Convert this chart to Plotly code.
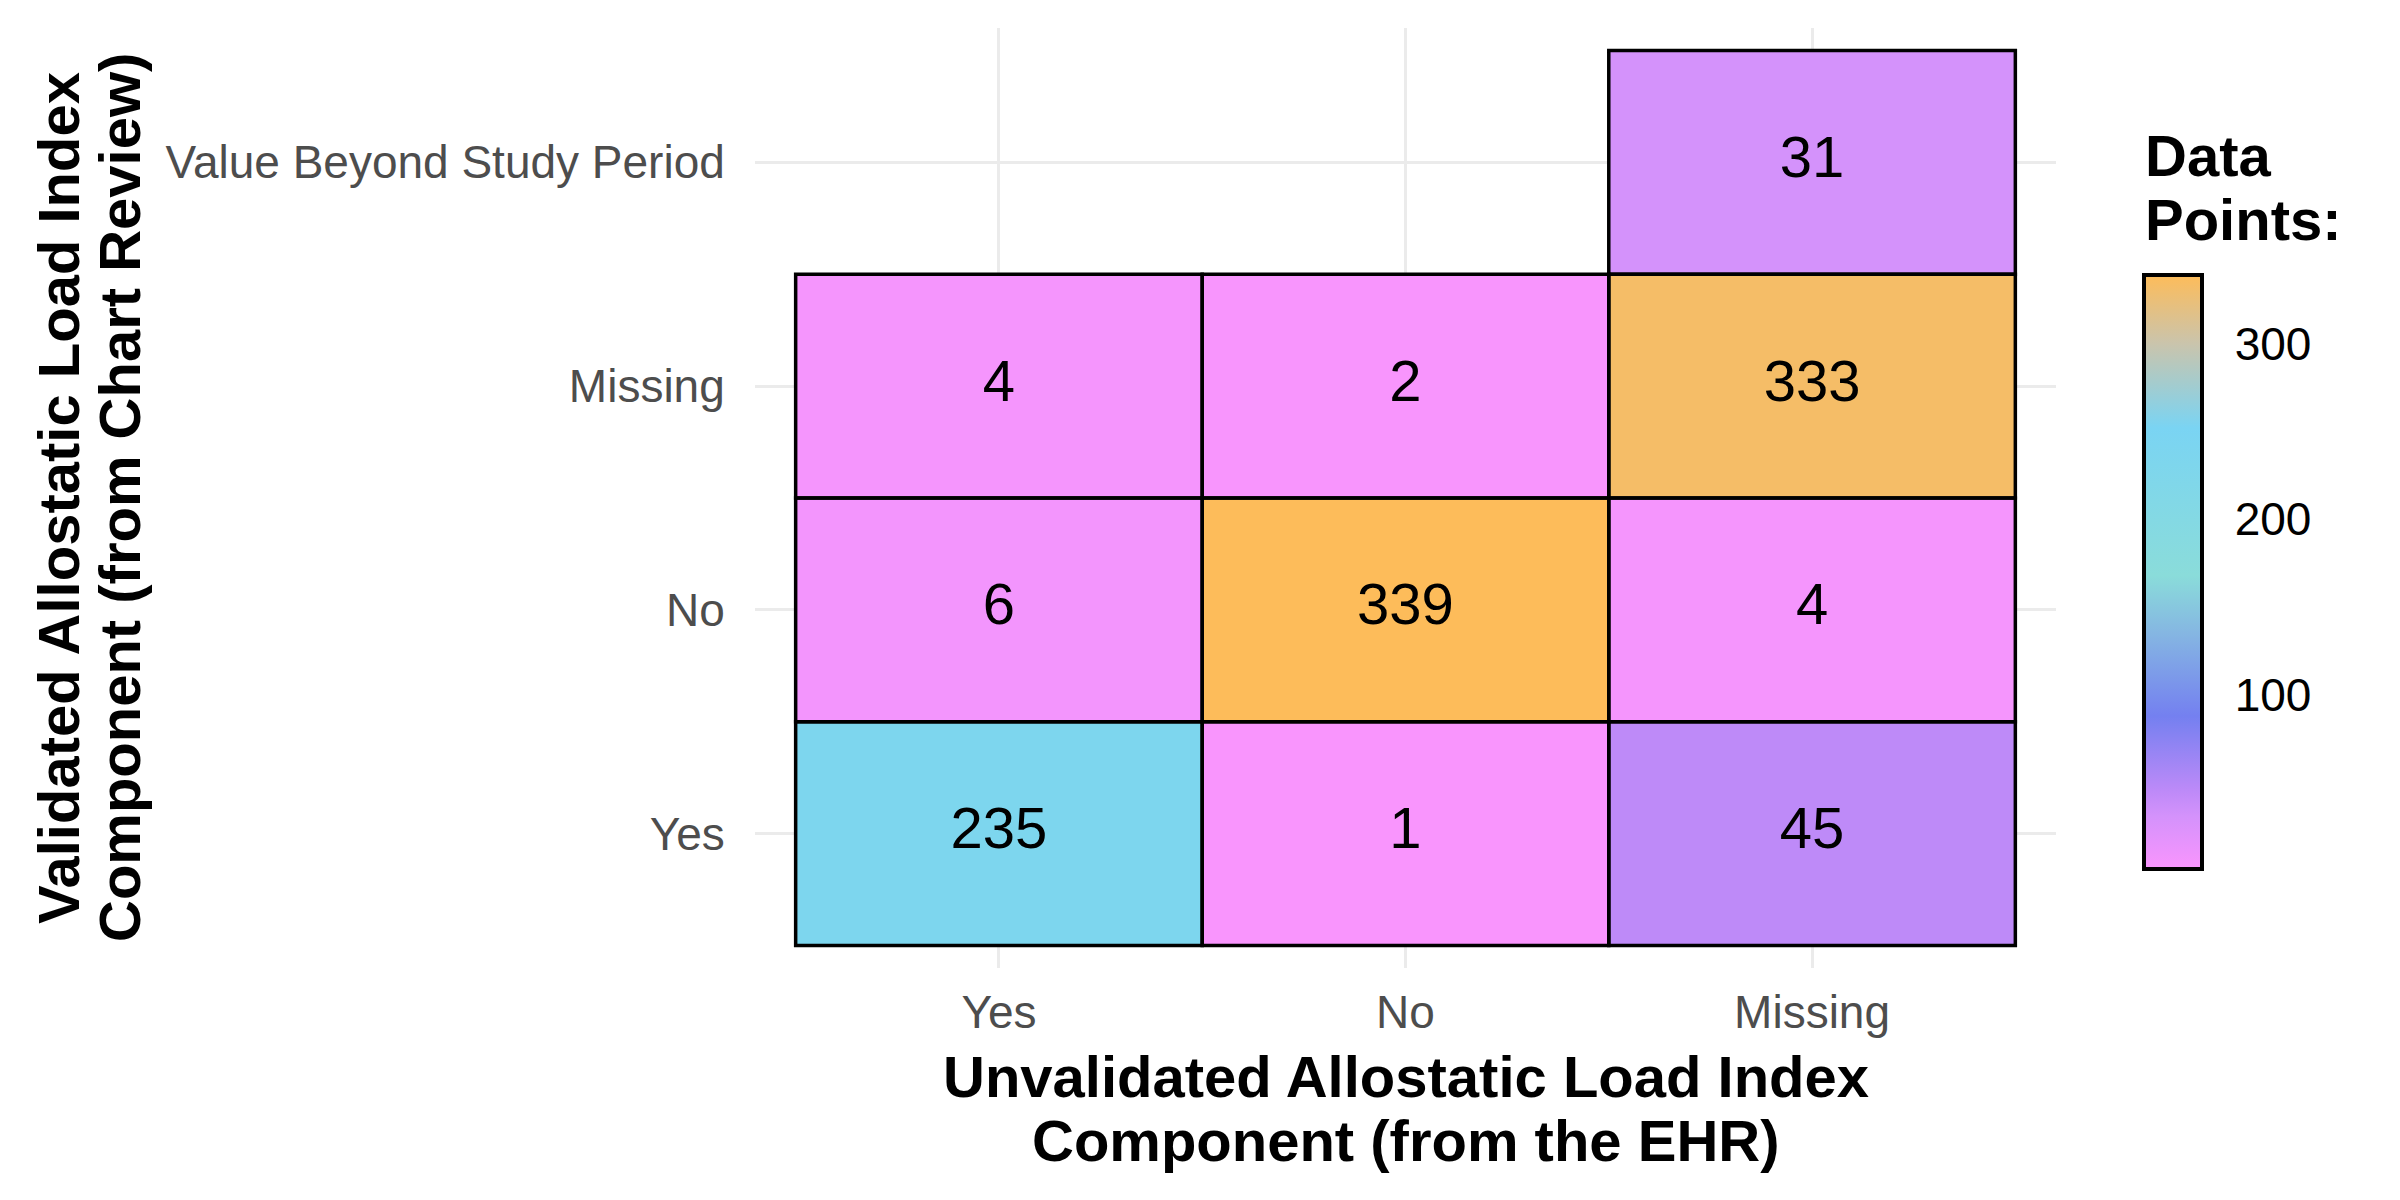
import plotly.graph_objects as go

# ---- data ----
ehr_categories = ["Yes", "No", "Missing"]
chart_categories = ["Yes", "No", "Missing", "Value Beyond Study Period"]

cell_ehr = ["Yes", "No", "Missing", "Yes", "No", "Missing", "Yes", "No", "Missing", "Missing"]
cell_chart = ["Yes", "Yes", "Yes", "No", "No", "No", "Missing", "Missing", "Missing",
              "Value Beyond Study Period"]
cell_count = [235, 1, 45, 6, 339, 4, 4, 2, 333, 31]

colorbar_ticks = [100, 200, 300]

# ---- build matrix ----
zmin, zmax = min(cell_count), max(cell_count)
z = [[None for _ in ehr_categories] for _ in chart_categories]
for e, c, v in zip(cell_ehr, cell_chart, cell_count):
    z[chart_categories.index(c)][ehr_categories.index(e)] = v

def frac(v):
    return (v - zmin) / (zmax - zmin)

colorscale = [
    [0.0, "#F995FD"],
    [frac(31), "#D492FB"],
    [frac(45), "#BE8AF8"],
    [frac(88), "#7480F0"],
    [frac(135), "#85B6E2"],
    [frac(168), "#8ADCDA"],
    [frac(252), "#7AD4F3"],
    [frac(300), "#CAC4AC"],
    [1.0, "#FDBC5A"],
]

# geometry (pixels)
W, H = 2400, 1200
ml, mr, mt, mb = 755, 344, 28, 232
pw, ph = W - ml - mr, H - mt - mb
cb_left_px, cb_top_px, cb_len_px, cb_thick = 2144, 275, 594, 58

def px_x(p):
    return (p - ml) / pw

def px_y(p):
    return (H - mb - p) / ph

fig = go.Figure()

fig.add_trace(go.Heatmap(
    x=ehr_categories, y=chart_categories, z=z,
    zmin=zmin, zmax=zmax, colorscale=colorscale,
    hoverongaps=False,
    colorbar=dict(
        x=px_x(cb_left_px), xanchor="left", xref="paper",
        y=px_y(cb_top_px), yanchor="top", yref="paper",
        len=cb_len_px, lenmode="pixels",
        thickness=cb_thick, thicknessmode="pixels",
        outlinewidth=4, outlinecolor="black",
        xpad=0, ypad=0,
        tickvals=colorbar_ticks, ticks="outside", ticklen=22,
        tickcolor="rgba(0,0,0,0)", tickwidth=2,
        tickfont=dict(family="Liberation Sans, Arial, sans-serif", size=46, color="black"),
    ),
))

# cell labels
fig.add_trace(go.Scatter(
    x=cell_ehr, y=cell_chart, mode="text",
    text=[str(v) for v in cell_count],
    textposition="middle center",
    textfont=dict(family="Liberation Sans, Arial, sans-serif", size=58, color="black"),
    hoverinfo="skip", showlegend=False,
))

# tile borders
shapes = []
for e, c in zip(cell_ehr, cell_chart):
    xi = ehr_categories.index(e)
    yi = chart_categories.index(c)
    shapes.append(dict(type="rect", xref="x", yref="y",
                       x0=xi - 0.5, x1=xi + 0.5, y0=yi - 0.5, y1=yi + 0.5,
                       line=dict(color="black", width=3.5), fillcolor="rgba(0,0,0,0)",
                       layer="above"))

# colorbar ticks drawn inside the bar on both edges
for t in colorbar_ticks:
    ypx = cb_top_px + (zmax - t) / (zmax - zmin) * cb_len_px
    for a, b in [(cb_left_px + 3, cb_left_px + 15),
                 (cb_left_px + cb_thick - 15, cb_left_px + cb_thick - 3)]:
        shapes.append(dict(type="line", xref="paper", yref="paper",
                           x0=px_x(a), x1=px_x(b), y0=px_y(ypx), y1=px_y(ypx),
                           line=dict(color="black", width=2)))

title_font = dict(family="Liberation Sans, Arial, sans-serif", size=58, color="black")
annotations = [
    dict(text="<b>Unvalidated Allostatic Load Index</b>", x=0.5, y=px_y(1076),
         xref="paper", yref="paper", showarrow=False, xanchor="center", yanchor="middle",
         font=title_font),
    dict(text="<b>Component (from the EHR)</b>", x=0.5, y=px_y(1140),
         xref="paper", yref="paper", showarrow=False, xanchor="center", yanchor="middle",
         font=title_font),
    dict(text="<b>Validated Allostatic Load Index</b>", x=px_x(58), y=0.5, textangle=-90,
         xref="paper", yref="paper", showarrow=False, xanchor="center", yanchor="middle",
         font=title_font),
    dict(text="<b>Component (from Chart Review)</b>", x=px_x(119), y=0.5, textangle=-90,
         xref="paper", yref="paper", showarrow=False, xanchor="center", yanchor="middle",
         font=title_font),
    dict(text="<b>Data</b>", x=px_x(2143), y=px_y(156),
         xref="paper", yref="paper", showarrow=False, xanchor="left", yanchor="middle",
         font=title_font),
    dict(text="<b>Points:</b>", x=px_x(2143), y=px_y(219),
         xref="paper", yref="paper", showarrow=False, xanchor="left", yanchor="middle",
         font=title_font),
]

tick_font = dict(family="Liberation Sans, Arial, sans-serif", size=46, color="#4D4D4D")

fig.update_layout(
    width=W, height=H,
    margin=dict(l=ml, r=mr, t=mt, b=mb),
    paper_bgcolor="white", plot_bgcolor="white",
    shapes=shapes, annotations=annotations,
    showlegend=False,
    xaxis=dict(type="category", categoryorder="array", categoryarray=ehr_categories,
               range=[-0.6, len(ehr_categories) - 0.4],
               showgrid=True, gridcolor="#EBEBEB", gridwidth=3, zeroline=False,
               showline=False, ticks="outside", ticklen=4, tickcolor="rgba(0,0,0,0)",
               tickfont=tick_font, fixedrange=True),
    yaxis=dict(type="category", categoryorder="array", categoryarray=chart_categories,
               range=[-0.6, len(chart_categories) - 0.4],
               showgrid=True, gridcolor="#EBEBEB", gridwidth=3, zeroline=False,
               showline=False, ticks="outside", ticklen=20, tickcolor="rgba(0,0,0,0)",
               tickfont=tick_font, fixedrange=True),
)

fig.write_html("out.html")
